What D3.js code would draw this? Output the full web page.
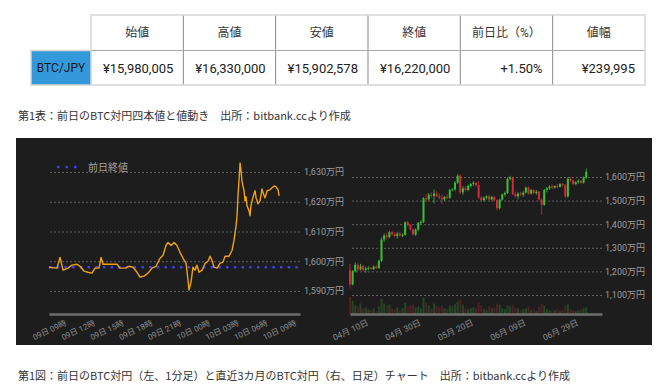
<!DOCTYPE html>
<html>
<head>
<meta charset="utf-8">
<script src="https://cdn.jsdelivr.net/npm/d3@7"></script>
<style>
body { margin: 0; background: #fff; }
svg { display: block; }
</style>
</head>
<body>
<script>
(function(){
'use strict';

// table
var pairName = 'BTC/JPY';
var tableHeads = ['始値', '高値', '安値', '終値', '前日比（%）', '値幅'];
var tableRow = ['¥15,980,005', '¥16,330,000', '¥15,902,578', '¥16,220,000', '+1.50%', '¥239,995'];

// left: 1-minute chart (sampled), minutes from 09日 00:00, values in 万円
var prevClose = 1598.0005;
var lineMin = [540, 590, 609, 628, 659, 684, 715, 734, 759, 784, 809, 828, 853, 866, 878, 922, 966, 984,
	1016, 1041, 1066, 1091, 1110, 1135, 1160, 1185, 1210, 1235, 1254, 1272, 1285, 1304, 1323, 1341, 1360,
	1379, 1398, 1410, 1416, 1429, 1441, 1454, 1466, 1479, 1498, 1517, 1535, 1548, 1560, 1573, 1592, 1610,
	1629, 1642, 1667, 1686, 1698, 1711, 1717, 1723, 1729, 1736, 1742, 1748, 1754, 1761, 1767, 1773, 1779,
	1792, 1798, 1804, 1811, 1823, 1830, 1836, 1848, 1861, 1873, 1880, 1892, 1905, 1923, 1936, 1949, 1961,
	1974, 1980];
var lineVal = [1598.0, 1597.7, 1601.3, 1597.0, 1597.7, 1598.7, 1599.0, 1598.3, 1596.7, 1596.3, 1596.0, 1597.7,
	1597.7, 1601.3, 1599.0, 1599.0, 1599.0, 1597.7, 1597.7, 1598.3, 1598.0, 1596.3, 1594.7, 1595.0, 1596.0,
	1597.7, 1598.3, 1601.0, 1602.0, 1605.3, 1606.3, 1605.3, 1606.3, 1605.3, 1603.0, 1601.0, 1599.3, 1593.7,
	1590.3, 1593.0, 1598.0, 1597.0, 1598.7, 1596.3, 1597.0, 1599.3, 1600.0, 1601.7, 1600.3, 1598.0, 1597.7,
	1599.3, 1599.7, 1601.7, 1601.7, 1603.7, 1607.0, 1612.0, 1615.3, 1622.0, 1627.0, 1633.0, 1630.3, 1627.0,
	1625.3, 1623.7, 1620.3, 1621.7, 1618.7, 1617.0, 1615.3, 1618.7, 1620.3, 1622.7, 1623.7, 1621.3, 1619.3,
	1620.3, 1624.3, 1623.0, 1621.3, 1623.7, 1624.0, 1624.7, 1625.3, 1625.0, 1624.0, 1622.0];
var lineTicks = [540, 720, 900, 1080, 1260, 1440, 1620, 1800, 1980];
var lineTickLabels = ['09日 09時', '09日 12時', '09日 15時', '09日 18時', '09日 21時', '10日 00時', '10日 03時', '10日 06時', '10日 09時'];
var lineYTicks = [1590, 1600, 1610, 1620, 1630];

// right: daily candles from 2025-04-10, values in 万円, volume relative
var candleStart = '2025-04-10';
var candleOpen = [1205, 1145, 1200, 1228, 1208, 1222, 1206, 1212, 1215, 1210, 1220, 1214, 1245, 1335, 1352, 1345,
	1366, 1358, 1350, 1360, 1352, 1355, 1408, 1396, 1378, 1356, 1378, 1405, 1410, 1510, 1505, 1525, 1520, 1530,
	1518, 1512, 1505, 1515, 1512, 1545, 1548, 1576, 1605, 1535, 1552, 1545, 1562, 1570, 1575, 1566, 1512, 1502,
	1512, 1518, 1505, 1515, 1502, 1468, 1504, 1526, 1532, 1592, 1598, 1528, 1518, 1530, 1525, 1534, 1555, 1530,
	1545, 1532, 1538, 1505, 1482, 1545, 1552, 1560, 1555, 1562, 1558, 1570, 1565, 1518, 1592, 1585, 1570, 1578,
	1584, 1576, 1598];
var candleHigh = [1232, 1206, 1238, 1236, 1232, 1230, 1220, 1222, 1220, 1225, 1228, 1250, 1345, 1360, 1365, 1372,
	1372, 1366, 1368, 1368, 1362, 1412, 1414, 1400, 1382, 1382, 1410, 1418, 1515, 1528, 1532, 1535, 1548, 1540,
	1530, 1525, 1520, 1528, 1550, 1552, 1582, 1612, 1612, 1562, 1560, 1568, 1575, 1582, 1580, 1582, 1520, 1518,
	1522, 1525, 1520, 1520, 1506, 1508, 1530, 1538, 1598, 1605, 1602, 1538, 1535, 1538, 1540, 1560, 1560, 1550,
	1548, 1545, 1540, 1510, 1550, 1558, 1565, 1568, 1565, 1570, 1575, 1575, 1570, 1600, 1600, 1590, 1582, 1590,
	1588, 1602, 1636];
var candleLow = [1128, 1140, 1196, 1200, 1204, 1200, 1195, 1205, 1208, 1206, 1210, 1210, 1240, 1325, 1335, 1340,
	1350, 1345, 1340, 1348, 1345, 1352, 1392, 1374, 1352, 1350, 1370, 1396, 1405, 1495, 1500, 1512, 1488, 1515,
	1505, 1485, 1498, 1508, 1508, 1540, 1540, 1570, 1528, 1525, 1538, 1540, 1555, 1562, 1560, 1508, 1498, 1496,
	1505, 1500, 1500, 1498, 1458, 1462, 1500, 1518, 1528, 1585, 1522, 1512, 1505, 1518, 1515, 1530, 1525, 1525,
	1528, 1525, 1500, 1440, 1478, 1535, 1545, 1548, 1550, 1552, 1555, 1558, 1510, 1512, 1578, 1565, 1565, 1572,
	1570, 1572, 1592];
var candleClose = [1145, 1200, 1228, 1208, 1222, 1206, 1212, 1215, 1210, 1220, 1214, 1245, 1335, 1352, 1345, 1366,
	1358, 1350, 1360, 1352, 1355, 1408, 1396, 1378, 1356, 1378, 1405, 1410, 1510, 1505, 1525, 1520, 1530, 1518,
	1512, 1505, 1515, 1512, 1545, 1548, 1576, 1605, 1535, 1552, 1545, 1562, 1570, 1575, 1566, 1512, 1502, 1512,
	1518, 1505, 1515, 1502, 1468, 1504, 1526, 1532, 1592, 1598, 1528, 1518, 1530, 1525, 1534, 1555, 1530, 1545,
	1532, 1538, 1505, 1482, 1545, 1552, 1560, 1555, 1562, 1558, 1570, 1565, 1518, 1592, 1585, 1570, 1578, 1584,
	1576, 1598, 1622];
var candleVol = [90, 70, 45, 40, 55, 30, 35, 25, 20, 30, 15, 40, 80, 55, 45, 50, 30, 25, 35, 20, 30, 60, 40, 45,
	50, 35, 40, 30, 85, 60, 45, 30, 55, 40, 35, 45, 30, 25, 45, 40, 50, 65, 75, 50, 30, 25, 30, 35, 30, 60, 45,
	25, 20, 40, 30, 35, 55, 50, 30, 25, 45, 40, 50, 35, 30, 20, 25, 30, 40, 20, 25, 15, 35, 55, 45, 25, 20, 15,
	20, 25, 15, 20, 45, 50, 25, 20, 15, 20, 25, 30, 35];
var candleTicks = ['2025-04-10', '2025-04-30', '2025-05-20', '2025-06-09', '2025-06-29'];
var candleYTicks = [1100, 1200, 1300, 1400, 1500, 1600];

var caption1 = '第1表：前日のBTC対円四本値と値動き　出所：bitbank.ccより作成';
var caption2 = '第1図：前日のBTC対円（左、1分足）と直近3カ月のBTC対円（右、日足）チャート　出所：bitbank.ccより作成';

var width = 672;
var height = 388;
var fontUI = "Roboto, 'Noto Sans CJK JP', sans-serif";
var fontCap = "'Noto Sans CJK JP', 'Noto Sans', sans-serif";
var parse = d3.timeParse('%Y-%m-%d');
var fmtMan = function(d){ return d3.format(',')(d) + '万円'; };

var svg = d3.select('body').append('svg')
	.attr('width', width)
	.attr('height', height);

// ---- table ----
var colX = d3.range(tableHeads.length + 1).map(function(i){ return 91 + i * 92.33; });
var tbl = svg.append('g').attr('font-family', fontUI);

tbl.append('rect')
	.attr('x', 31).attr('y', 50).attr('width', 60).attr('height', 35)
	.attr('fill', '#3399db');
tbl.append('text')
	.attr('x', 61).attr('y', 68).attr('dy', '0.35em')
	.attr('text-anchor', 'middle').attr('font-size', 12).attr('fill', '#1a1a1a')
	.text(pairName);

tbl.selectAll('line.vcol')
	.data(colX.slice(1, -1))
	.enter().append('line')
	.attr('x1', function(d){ return d; }).attr('x2', function(d){ return d; })
	.attr('y1', 15).attr('y2', 85)
	.attr('stroke', '#8a8a8a').attr('stroke-width', 1);
tbl.append('line')
	.attr('x1', 91).attr('x2', 645).attr('y1', 50.5).attr('y2', 50.5)
	.attr('stroke', '#a8a8a8');
tbl.append('rect')
	.attr('x', 91).attr('y', 15).attr('width', 554).attr('height', 70)
	.attr('fill', 'none').attr('stroke', '#d6d6d6').attr('stroke-width', 1.5);
tbl.append('path')
	.attr('d', 'M91,50.5H31V85H91')
	.attr('fill', 'none').attr('stroke', '#d6d6d6').attr('stroke-width', 1.5);

tbl.selectAll('text.head')
	.data(tableHeads)
	.enter().append('text')
	.attr('x', function(d, i){ return (colX[i] + colX[i + 1]) / 2; })
	.attr('y', 32.5).attr('dy', '0.35em')
	.attr('text-anchor', 'middle').attr('font-size', 12).attr('fill', '#333')
	.text(function(d){ return d; });

tbl.selectAll('text.val')
	.data(tableRow)
	.enter().append('text')
	.attr('x', function(d, i){ return colX[i + 1] - 10; })
	.attr('y', 68).attr('dy', '0.35em')
	.attr('text-anchor', 'end').attr('font-size', 13).attr('fill', '#222')
	.text(function(d){ return d; });

svg.append('text')
	.attr('x', 18).attr('y', 116).attr('dy', '0.35em')
	.attr('font-family', fontCap).attr('font-size', 11).attr('fill', '#333')
	.text(caption1);

// ---- dark panel ----
svg.append('rect')
	.attr('x', 16).attr('y', 138).attr('width', 636).attr('height', 207)
	.attr('fill', '#1d1d1d');

function styleGrid(g){
	g.select('.domain').remove();
	g.selectAll('.tick line')
		.attr('stroke', '#606060')
		.attr('stroke-dasharray', '2,2');
	g.selectAll('.tick text')
		.attr('fill', '#9c9c9c')
		.attr('font-size', 9)
		.attr('font-family', fontUI);
}

function styleXAxis(g, size){
	g.select('.domain')
		.attr('stroke', '#6e6e6e')
		.attr('stroke-width', 2.5);
	g.selectAll('.tick text')
		.attr('fill', '#8c8c8c')
		.attr('font-size', size)
		.attr('font-family', fontUI)
		.attr('text-anchor', 'middle')
		.attr('y', 0)
		.attr('dy', '0.35em')
		.attr('transform', 'translate(0,16) rotate(-25)');
}

// ---- left chart ----
var xL = d3.scaleLinear().domain([540, 2111]).range([49, 300]);
var yL = d3.scaleLinear().domain([1590, 1630]).range([291, 172]);

svg.append('g')
	.attr('transform', 'translate(300,0)')
	.call(d3.axisRight(yL).tickValues(lineYTicks).tickSize(-251).tickPadding(4).tickFormat(fmtMan))
	.call(styleGrid);

svg.append('g')
	.attr('transform', 'translate(0,314)')
	.call(d3.axisBottom(xL).tickValues(lineTicks).tickSize(0).tickSizeOuter(0)
		.tickFormat(function(d, i){ return lineTickLabels[i]; }))
	.call(styleXAxis, 8);

svg.append('line')
	.attr('x1', xL(540)).attr('x2', 300)
	.attr('y1', yL(prevClose)).attr('y2', yL(prevClose))
	.attr('stroke', '#3f3ff2').attr('stroke-width', 2.5)
	.attr('stroke-dasharray', '2.5,5.2');

var lineData = lineMin.map(function(m, i){ return {t: m, v: lineVal[i]}; });
svg.append('path')
	.datum(lineData)
	.attr('fill', 'none')
	.attr('stroke', '#f0a30a')
	.attr('stroke-width', 1.4)
	.attr('stroke-linejoin', 'round')
	.attr('d', d3.line().x(function(d){ return xL(d.t); }).y(function(d){ return yL(d.v); }));

// legend
svg.append('line')
	.attr('x1', 57).attr('x2', 78).attr('y1', 167).attr('y2', 167)
	.attr('stroke', '#3f3ff2').attr('stroke-width', 2.5)
	.attr('stroke-dasharray', '2.5,6');
svg.append('text')
	.attr('x', 88).attr('y', 167).attr('dy', '0.35em')
	.attr('font-family', fontUI).attr('font-size', 10).attr('fill', '#a0a0a0')
	.text('前日終値');

// ---- right chart ----
var t0 = parse(candleStart);
var candles = candleClose.map(function(c, i){
	return {date: d3.timeDay.offset(t0, i), o: candleOpen[i], h: candleHigh[i], l: candleLow[i], c: c, v: candleVol[i]};
});

var xR = d3.scaleTime().domain([t0, parse('2025-07-15')]).range([350, 602]);
var yR = d3.scaleLinear().domain([1100, 1600]).range([295, 177]);
var yV = d3.scaleLinear().domain([0, 100]).range([314, 295]);

svg.append('g')
	.attr('transform', 'translate(602,0)')
	.call(d3.axisRight(yR).tickValues(candleYTicks).tickSize(-252).tickPadding(3).tickFormat(fmtMan))
	.call(styleGrid);

svg.append('g').selectAll('rect')
	.data(candles)
	.enter().append('rect')
	.attr('x', function(d){ return xR(d.date) - 1; })
	.attr('width', 2)
	.attr('y', function(d){ return yV(d.v); })
	.attr('height', function(d){ return yV(0) - yV(d.v); })
	.attr('fill', function(d){ return d.c >= d.o ? '#244624' : '#4a2226'; });

svg.append('g')
	.attr('transform', 'translate(0,314)')
	.call(d3.axisBottom(xR).tickValues(candleTicks.map(parse)).tickSize(0).tickSizeOuter(0)
		.tickFormat(d3.timeFormat('%m月 %d日')))
	.call(styleXAxis, 8.5);

var cg = svg.append('g').selectAll('g')
	.data(candles)
	.enter().append('g');

cg.append('line')
	.attr('x1', function(d){ return xR(d.date); })
	.attr('x2', function(d){ return xR(d.date); })
	.attr('y1', function(d){ return yR(d.h); })
	.attr('y2', function(d){ return yR(d.l); })
	.attr('stroke', function(d){ return d.c >= d.o ? '#36c236' : '#d22a3a'; })
	.attr('stroke-width', 0.8);

cg.append('rect')
	.attr('x', function(d){ return xR(d.date) - 1; })
	.attr('width', 2)
	.attr('y', function(d){ return yR(Math.max(d.o, d.c)); })
	.attr('height', function(d){ return Math.max(1, Math.abs(yR(d.o) - yR(d.c))); })
	.attr('fill', function(d){ return d.c >= d.o ? '#36c236' : '#d22a3a'; });

svg.append('text')
	.attr('x', 18).attr('y', 376).attr('dy', '0.35em')
	.attr('font-family', fontCap).attr('font-size', 11).attr('fill', '#333')
	.text(caption2);

})();
</script>
</body>
</html>
